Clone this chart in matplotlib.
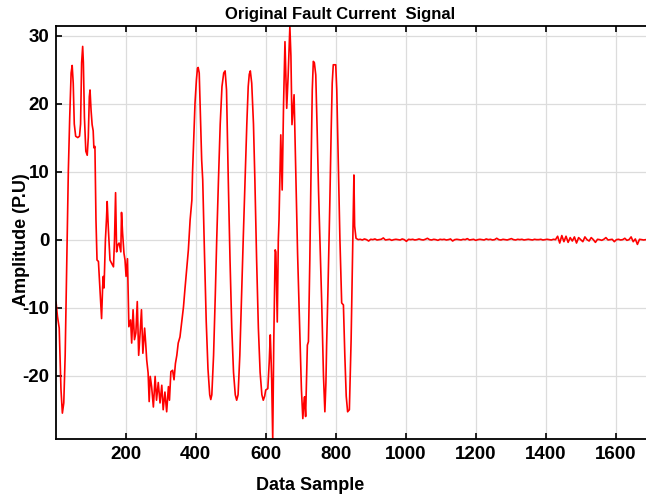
import numpy as np
from matplotlib import pyplot as plt

# Fault part of the signal (sample, amplitude)
fault_samples = [1, 5, 10, 15, 19, 23, 27, 31, 34, 36, 40, 44, 47, 50, 53, 57, 63, 68, 71, 74,
                 77, 79, 82, 86, 90, 93, 96, 98, 101, 104, 107, 109, 112, 115, 118, 122, 125, 131, 134, 136,
                 138, 142, 145, 147, 150, 155, 160, 165, 168, 171, 174, 177, 181, 186, 188, 191, 195, 198, 201, 205,
                 209, 214, 217, 221, 225, 229, 233, 237, 241, 245, 249, 254, 257, 260, 264, 267, 270, 274, 279, 284,
                 288, 293, 298, 303, 307, 312, 317, 322, 325, 329, 334, 338, 342, 346, 350, 355, 360, 365, 369, 374,
                 379, 384, 389, 391, 398, 402, 405, 407, 410, 413, 417, 420, 425, 430, 435, 440, 443, 446, 451, 456,
                 460, 465, 470, 475, 480, 484, 488, 493, 498, 503, 508, 513, 517, 521, 526, 531, 536, 541, 546, 550,
                 553, 556, 560, 565, 569, 574, 579, 584, 589, 593, 597, 600, 606, 610, 613, 615, 617, 620, 623, 627,
                 629, 633, 636, 638, 643, 647, 651, 655, 657, 660, 664, 669, 672, 675, 678, 681, 685, 689, 691, 698,
                 702, 706, 709, 711, 714, 719, 722, 726, 730, 733, 736, 739, 743, 747, 751, 756, 760, 765, 769, 772,
                 774, 778, 783, 787, 790, 793, 800, 803, 807, 812, 817, 822, 826, 830, 834, 839, 844, 849, 852, 854]
fault_values = [-9.2, -11.3, -13, -22, -25.5, -24, -17, -5, 4, 10, 18, 24.5, 25.6, 23, 17, 15.2, 15.0, 15.2, 17, 26,
                28.4, 26, 18, 13, 12.4, 15, 21, 22.0, 19, 16.9, 16, 13.5, 13.7, 2.9, -3.0, -3.2, -6, -11.6, -7, -5.4,
                -7.1, 0, 3, 5.6, 2, -3.0, -3.5, -4.0, 0, 6.9, -1.8, -0.8, -0.5, -1.8, 4.0, 1, -2.0, -3, -5.4, -2.8,
                -12.8, -11.8, -15.2, -10.3, -14.7, -13.7, -9.1, -17, -13.8, -10.3, -16.7, -13.0, -15.2, -17.7, -19.6, -23.8, -20.1, -21.6, -24.6, -20.1,
                -23.6, -21.0, -24.0, -21.4, -25.0, -22.4, -25.3, -21.6, -23.6, -19.4, -19.2, -20.6, -18.2, -17.0, -15.2, -14.3, -12.1, -9.9, -7.4, -4.5,
                -1.5, 2.9, 5.8, 10, 20.1, 23.5, 25.2, 25.3, 24.5, 19, 11.7, 8.8, -2, -12, -19, -22.8, -23.5, -22.8, -17, -8,
                0, 8.8, 17, 22.5, 24.5, 24.8, 22, 8.8, -3, -13, -19.5, -22.8, -23.6, -22.8, -17, -8, 0.5, 8.8, 17, 22.5,
                24.3, 24.8, 23, 17, 8.8, -3, -13, -19.5, -22.8, -23.6, -23, -22.1, -21.9, -18, -14.0, -17, -20.6, -29.4, -15, -1.5,
                -1.8, -12.1, 0, 2.9, 15.4, 7.3, 20, 29.1, 25, 19.3, 24, 31.3, 27, 16.9, 19, 21.3, 12, 3.2, -2.0, -14.8,
                -22, -26.3, -24, -23.1, -26.0, -15.5, -15.0, -3, 12, 22, 26.2, 26.0, 24.2, 16, 7, -2, -9.3, -20, -25.3, -21,
                -15.5, -7, 5, 16, 23, 25.7, 25.7, 22, 12, 0, -9.3, -9.6, -17, -23, -25.3, -25.0, -14.7, 0.1, 9.5, 2]

# Post-fault residual noise, one value every 6 samples from 858
noise_values = [0.2, 0.0, 0.05, -0.05, 0.1, 0.0, -0.2, 0.05, 0.0, 0.1,
                -0.05, 0.0, 0.05, 0.25, -0.05, 0.0, 0.05, -0.1, 0.0, 0.05,
                0.0, -0.05, 0.1, 0.0, -0.25, 0.05, 0.0, 0.05, -0.05, 0.0,
                0.1, 0.0, -0.05, 0.05, 0.2, 0.0, -0.05, 0.05, 0.0, -0.1,
                0.05, 0.0, 0.05, -0.05, 0.0, 0.1, -0.2, 0.0, 0.05, 0.0,
                -0.05, 0.05, 0.0, 0.15, -0.05, 0.0, 0.05, -0.1, 0.0, 0.05,
                0.0, -0.05, 0.1, 0.0, 0.05, -0.05, 0.0, 0.2, 0.0, -0.05,
                0.05, 0.0, -0.05, 0.05, 0.15, 0.0, -0.05, 0.05, 0.0, 0.05,
                -0.05, 0.0, 0.05, 0.0, -0.05, 0.05, 0.0, 0.0, 0.05, -0.05,
                0.0, 0.05, 0.0, -0.05, 0.05, 0.0, 0.5, -0.5, 0.6, -0.3,
                0.5, -0.4, 0.3, -0.2, 0.4, -0.5, 0.3, 0.0, -0.3, 0.4,
                0.0, -0.2, 0.3, 0.0, -0.4, 0.05, 0.0, -0.1, 0.05, 0.3,
                -0.05, 0.0, 0.05, -0.3, 0.0, 0.05, -0.05, 0.0, 0.2, -0.1,
                0.0, 0.4, -0.3, 0.1, -0.7, 0.05, 0.0, -0.05, 0.0, 0.0]
noise_samples = 858 + 6 * np.arange(len(noise_values))

xticks = [200, 400, 600, 800, 1000, 1200, 1400, 1600]
yticks = [-20, -10, 0, 10, 20, 30]

samples = np.concatenate([fault_samples, noise_samples])
values = np.concatenate([fault_values, noise_values])

plt.rcParams['font.family'] = 'Liberation Sans'
plt.rcParams['font.weight'] = 'bold'
plt.rcParams['axes.unicode_minus'] = False

fig = plt.figure(figsize=(6.46, 4.97), dpi=100)
ax = fig.add_axes([0.0868, 0.1167, 0.9205, 0.831])
ax.plot(samples, values, color='red', linewidth=1.2)
ax.set_xlim(1, 1700)
ax.set_ylim(-29.3, 31.4)
ax.set_xticks(xticks)
ax.set_yticks(yticks)
ax.grid(True, color='#dcdcdc', linewidth=0.9)
ax.tick_params(direction='in', length=4, width=1.2, top=True, right=False, labelsize=13.5, pad=5)
for lab in ax.get_xticklabels() + ax.get_yticklabels():
    lab.set_fontweight('bold')
for s in ax.spines.values():
    s.set_linewidth(1.3)

fig.text(340 / 646, 1 - 14 / 497, 'Original Fault Current  Signal', ha='center', va='center',
         fontsize=12, fontweight='bold')
fig.text(310 / 646, 1 - 486 / 497, 'Data Sample', ha='center', va='center',
         fontsize=13, fontweight='bold')
fig.text(22 / 646, 1 - 240 / 497, 'Amplitude (P.U)', ha='center', va='center', rotation=90,
         fontsize=13, fontweight='bold')

fig.savefig('out.png', dpi=100)
